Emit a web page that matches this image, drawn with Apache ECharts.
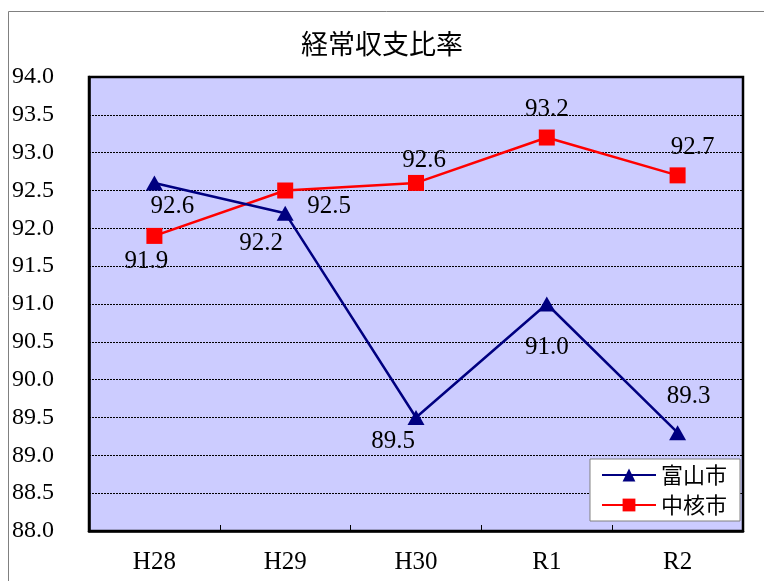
<!DOCTYPE html>
<html>
<head>
<meta charset="utf-8">
<script src="https://cdn.jsdelivr.net/npm/echarts@6/dist/echarts.min.js"></script>
<style>
html,body{margin:0;padding:0;background:#fff;}
#chart{width:764px;height:581px;}
</style>
</head>
<body>
<div id="chart"></div>
<script>
var titleText = '経常収支比率';
var categories = ['H28', 'H29', 'H30', 'R1', 'R2'];
var toyamaName = '富山市';
var toyamaValues = [92.6, 92.2, 89.5, 91.0, 89.3];
var chukakuName = '中核市';
var chukakuValues = [91.9, 92.5, 92.6, 93.2, 92.7];
var yMin = 88.0, yMax = 94.0, yStep = 0.5;

// label placement (pixel offsets from point), kept separate from data
var toyamaLabelOffsets = [[18, 24], [-24, 30], [-23, 24], [0, 43], [11, -36]];
var chukakuLabelOffsets = [[-8, 26], [44, 16], [8, -22], [0, -28], [15, -28]];

var serif = '"Liberation Serif", "DejaVu Serif", serif';
var cjk = '"Noto Sans CJK JP", sans-serif';

function buildData(values, offsets) {
  return values.map(function (v, i) {
    return {
      value: v,
      label: { show: true, position: 'inside', offset: offsets[i] }
    };
  });
}

var chart = echarts.init(document.getElementById('chart'), null, { renderer: 'canvas' });
chart.setOption({
  animation: false,
  backgroundColor: '#ffffff',
  graphic: [{
    type: 'rect',
    left: 6, top: 9,
    shape: { width: 800, height: 600 },
    style: { fill: 'none', stroke: '#808080', lineWidth: 1 },
    z: -1
  }],
  title: {
    text: titleText,
    left: 'center',
    top: 25,
    textStyle: { fontFamily: cjk, fontSize: 27, fontWeight: 'normal', color: '#000' }
  },
  legend: {
    right: 24,
    top: 459,
    orient: 'vertical',
    backgroundColor: '#ffffff',
    borderColor: '#808080',
    borderWidth: 1,
    borderRadius: 0,
    padding: [5, 13, 5, 11],
    itemGap: 8,
    itemWidth: 54,
    itemHeight: 16,
    textStyle: { fontFamily: cjk, fontSize: 22, color: '#000' },
    data: [toyamaName, chukakuName]
  },
  grid: {
    left: 89, right: 21, top: 77, bottom: 50,
    show: true,
    backgroundColor: '#CCCCFF',
    borderColor: '#000',
    borderWidth: 2.5
  },
  xAxis: {
    type: 'category',
    data: categories,
    boundaryGap: true,
    axisLine: { show: true, lineStyle: { color: '#000', width: 2.5 } },
    axisTick: { show: true, inside: true, length: 6, lineStyle: { color: '#000' } },
    axisLabel: { margin: 19, fontFamily: serif, fontSize: 25, color: '#000' }
  },
  yAxis: {
    type: 'value',
    min: yMin, max: yMax, interval: yStep,
    axisLine: { show: true, lineStyle: { color: '#000', width: 2.5 } },
    axisTick: { show: false },
    axisLabel: {
      margin: 77, align: 'left',
      fontFamily: serif, fontSize: 24, color: '#000',
      formatter: function (v) { return v.toFixed(1); }
    },
    splitLine: { show: true, lineStyle: { color: '#000', type: [2, 1], width: 1 } }
  },
  series: [
    {
      name: toyamaName,
      type: 'line',
      data: buildData(toyamaValues, toyamaLabelOffsets),
      symbol: 'triangle',
      symbolSize: [17, 15],
      lineStyle: { color: '#000080', width: 2.5 },
      itemStyle: { color: '#000080' },
      label: {
        fontFamily: serif, fontSize: 25, color: '#000',
        formatter: function (p) { return p.value.toFixed(1); }
      },
      z: 3
    },
    {
      name: chukakuName,
      type: 'line',
      data: buildData(chukakuValues, chukakuLabelOffsets),
      symbol: 'rect',
      symbolSize: 16,
      lineStyle: { color: '#FF0000', width: 2.5 },
      itemStyle: { color: '#FF0000' },
      label: {
        fontFamily: serif, fontSize: 25, color: '#000',
        formatter: function (p) { return p.value.toFixed(1); }
      },
      z: 2
    }
  ]
});
</script>
</body>
</html>
